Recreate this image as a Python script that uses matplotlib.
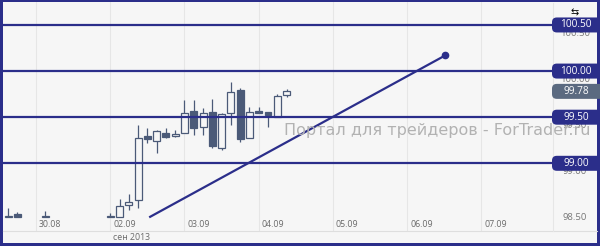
import matplotlib.pyplot as plt
from matplotlib.patches import Rectangle, FancyBboxPatch
from matplotlib.lines import Line2D
import matplotlib.transforms as mtransforms

# 3-hour candles, x = bar index (30.08 00:00 = 0, 8 bars per day)
bar_idx = [-3, -2, 1, 8, 9, 10, 11, 12, 13, 14, 15, 16, 17, 18, 19, 20, 21, 22, 23, 24, 25, 26, 27]
opens  = [98.42, 98.45, 98.42, 98.42, 98.42, 98.55, 98.60, 99.30, 99.24, 99.33, 99.30, 99.33,
          99.57, 99.39, 99.56, 99.17, 99.55, 99.80, 99.27, 99.57, 99.56, 99.50, 99.74]
highs  = [98.52, 98.47, 98.48, 98.46, 98.61, 98.67, 99.42, 99.38, 99.36, 99.38, 99.36, 99.69,
          99.69, 99.60, 99.70, 99.55, 99.88, 99.82, 99.61, 99.61, 99.56, 99.75, 99.81]
lows   = [98.42, 98.42, 98.42, 98.42, 98.42, 98.49, 98.52, 99.22, 99.11, 99.27, 99.29, 99.33,
          99.31, 99.31, 99.17, 99.14, 99.42, 99.23, 99.27, 99.55, 99.39, 99.50, 99.72]
closes = [98.42, 98.42, 98.42, 98.42, 98.54, 98.58, 99.27, 99.26, 99.35, 99.29, 99.32, 99.55,
          99.38, 99.55, 99.19, 99.53, 99.77, 99.26, 99.56, 99.55, 99.52, 99.73, 99.78]

day_idx = [0, 8, 16, 24, 32, 40, 48]
day_labels = ['30.08', '02.09', '03.09', '04.09', '05.09', '06.09', '07.09']
levels = [100.5, 100.0, 99.5, 99.0]
price_ticks = [100.5, 100.0, 99.5, 99.0, 98.5]
trend_x = [12.3, 44.1]
trend_y = [98.42, 100.17]
last_price = 99.78

navy = '#2b2e8a'
candle_col = '#4b5a78'
bg = '#f6f6f6'
W, H = 600, 246

fig = plt.figure(figsize=(6, 2.46), dpi=100, facecolor=navy)
fig.patches.append(Rectangle((3 / W, 3 / H), 594 / W, 241 / H, transform=fig.transFigure,
                             facecolor=bg, edgecolor='none', zorder=-5))

ax = fig.add_axes([3 / W, (H - 231) / H, 549 / W, 229 / H])
ax.set_facecolor(bg)
ax.set_xlim(-3.556, 55.6)
ax.set_ylim(98.266, 100.749)
for s in ax.spines.values():
    s.set_visible(False)
ax.set_xticks([])
ax.set_yticks([])

# vertical day grid
for d in day_idx:
    ax.axvline(d, color='#e6e6e6', lw=0.8, zorder=1)

# separators
fig.lines.append(Line2D([3 / W, 597 / W], [(H - 231) / H] * 2, transform=fig.transFigure,
                        color='#dedede', lw=0.8))
fig.lines.append(Line2D([553 / W] * 2, [(H - 231) / H, 243 / H], transform=fig.transFigure,
                        color='#e6e6e6', lw=0.8))

# candles
bw = 0.75
for x, o, h, l, c in zip(bar_idx, opens, highs, lows, closes):
    ax.plot([x, x], [l, h], color=candle_col, lw=0.9, zorder=3, solid_capstyle='butt')
    bottom = min(o, c)
    height = max(abs(c - o), 0.004)
    face = candle_col if c < o else bg
    ax.add_patch(Rectangle((x - bw / 2, bottom), bw, height, facecolor=face,
                           edgecolor=candle_col, lw=0.9, zorder=4))

# day labels
lbl_tr = mtransforms.blended_transform_factory(ax.transData, ax.transAxes)
for d, t in zip(day_idx, day_labels):
    ax.text(d + 0.3, 0.03, t, transform=lbl_tr, fontsize=6.3, color='#6a6a6a',
            family='Open Sans', va='center', ha='left')
fig.text(113 / W, (H - 238) / H, 'сен 2013', fontsize=6.3, color='#6a6a6a',
         family='Open Sans', va='center', ha='left')

# watermark
fig.text(284 / W, (H - 131) / H, 'Портал для трейдеров - ForTrader.ru', fontsize=11.5,
         color='#b2b2b2', va='center', ha='left', zorder=2)

# gray price axis labels (offset below level)
off = mtransforms.offset_copy(ax.transData, fig=fig, x=0, y=-8.5, units='dots')
for p in price_ticks:
    ax.text(55.6 + (575 - 552) / 9.28, p, f'{p:.2f}', transform=off, fontsize=6.8,
            color='#777777', family='Open Sans', ha='center', va='center', clip_on=False)

# horizontal levels
for lv in levels:
    ax.axhline(lv, color=navy, lw=1.6, zorder=5)

# trend line
ax.plot(trend_x, trend_y, color=navy, lw=1.6, zorder=6)
ax.plot(trend_x[1], trend_y[1], 'o', color=navy, ms=4.5, zorder=7)


def price_box(price, text, color):
    y = ax.transData.transform((0, price))[1] / H
    box = FancyBboxPatch((552 / W, y - 7.5 / H), 52 / W, 15 / H,
                         boxstyle='round,pad=0,rounding_size=0.008',
                         transform=fig.transFigure, facecolor=color, edgecolor='none',
                         zorder=10, mutation_aspect=2.4)
    fig.patches.append(box)
    fig.text(576 / W, y, text, color='white', fontsize=7.3, family='Open Sans',
             ha='center', va='center', zorder=11)


for lv in levels:
    price_box(lv, f'{lv:.2f}', navy)
price_box(last_price, f'{last_price:.2f}', '#5b6a80')

# small cursor icon top right
fig.text(575 / W, (H - 12) / H, '⇆', fontsize=7, color='black', ha='center', va='center')

fig.savefig('out.png', dpi=100, facecolor=navy)
